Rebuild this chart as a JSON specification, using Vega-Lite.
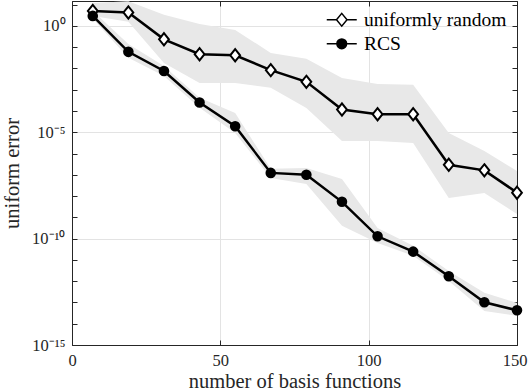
{
  "$schema": "https://vega.github.io/schema/vega-lite/v6.json",
  "autosize": "none",
  "width": 445,
  "height": 344,
  "padding": {"left": 72, "top": 1, "right": 11, "bottom": 47},
  "background": "white",
  "config": {
    "view": {"stroke": "#262626", "strokeWidth": 1},
    "font": "Liberation Serif",
    "axis": {
      "labelFont": "Liberation Serif",
      "titleFont": "Liberation Serif",
      "labelColor": "#262626",
      "titleColor": "#262626",
      "domainColor": "#262626",
      "tickColor": "#262626",
      "labelFontSize": 16.5,
      "titleFontSize": 20.5,
      "titleFontWeight": "normal",
      "gridColor": "#e3e3e3"
    }
  },
  "data": {
    "values": [
      {"n": 7, "series": "uniformly random", "err": 5.07, "lo": 2.95, "hi": 12.0},
      {"n": 19, "series": "uniformly random", "err": 4.27, "lo": 1.55, "hi": 14.5},
      {"n": 31, "series": "uniformly random", "err": 0.234, "lo": 0.0182, "hi": 3.31},
      {"n": 43, "series": "uniformly random", "err": 0.0468, "lo": 0.00209, "hi": 1.23},
      {"n": 55, "series": "uniformly random", "err": 0.0417, "lo": 0.00209, "hi": 0.646},
      {"n": 67, "series": "uniformly random", "err": 0.00832, "lo": 0.00123, "hi": 0.0537},
      {"n": 79, "series": "uniformly random", "err": 0.00234, "lo": 0.000138, "hi": 0.0282},
      {"n": 91, "series": "uniformly random", "err": 0.000117, "lo": 3.89e-6, "hi": 0.00355},
      {"n": 103, "series": "uniformly random", "err": 7.08e-5, "lo": 3.89e-6, "hi": 0.00186},
      {"n": 115, "series": "uniformly random", "err": 7.08e-5, "lo": 3.16e-6, "hi": 0.0017},
      {"n": 127, "series": "uniformly random", "err": 2.95e-7, "lo": 8.13e-9, "hi": 9.33e-6},
      {"n": 139, "series": "uniformly random", "err": 1.62e-7, "lo": 1.41e-8, "hi": 1.32e-6},
      {"n": 150, "series": "uniformly random", "err": 1.45e-8, "lo": 1.45e-9, "hi": 1.51e-7},
      {"n": 7, "series": "RCS", "err": 2.95, "lo": 2.14, "hi": 5.13},
      {"n": 19, "series": "RCS", "err": 0.0603, "lo": 0.0316, "hi": 0.141},
      {"n": 31, "series": "RCS", "err": 0.00759, "lo": 0.00447, "hi": 0.0132},
      {"n": 43, "series": "RCS", "err": 0.000251, "lo": 0.000141, "hi": 0.000417},
      {"n": 55, "series": "RCS", "err": 1.91e-5, "lo": 9.33e-6, "hi": 8.13e-5},
      {"n": 67, "series": "RCS", "err": 1.23e-7, "lo": 7.08e-8, "hi": 1.91e-7},
      {"n": 79, "series": "RCS", "err": 1.0e-7, "lo": 3.72e-8, "hi": 2.09e-7},
      {"n": 91, "series": "RCS", "err": 5.37e-9, "lo": 3.98e-10, "hi": 6.31e-8},
      {"n": 103, "series": "RCS", "err": 1.29e-10, "lo": 6.31e-11, "hi": 3.16e-10},
      {"n": 115, "series": "RCS", "err": 2.45e-11, "lo": 1.55e-11, "hi": 4.57e-11},
      {"n": 127, "series": "RCS", "err": 1.7e-12, "lo": 1.02e-12, "hi": 3.02e-12},
      {"n": 139, "series": "RCS", "err": 1.02e-13, "lo": 3.98e-14, "hi": 2.82e-13},
      {"n": 150, "series": "RCS", "err": 4.27e-14, "lo": 2.34e-14, "hi": 9.55e-14}
    ]
  },
  "resolve": {"axis": {"x": "independent", "y": "independent"}},
  "layer": [
    {
      "mark": {"type": "area", "color": "#e8e8e8", "opacity": 1},
      "encoding": {
        "x": {
          "field": "n", "type": "quantitative",
          "scale": {"domain": [0, 150], "nice": false, "zero": false},
          "axis": {
            "orient": "bottom", "values": [0, 50, 100, 150], "title": "number of basis functions",
            "tickSize": -5, "labelPadding": 12, "titlePadding": 3, "grid": true, "labelFlush": false,
            "labelOffset": {"condition": {"test": "datum.value == 150", "value": -2.5}, "value": 0}
          }
        },
        "y": {
          "field": "lo", "type": "quantitative",
          "scale": {"type": "log", "domain": [1e-15, 14.8], "nice": false},
          "axis": {
            "orient": "left",
            "values": [1e-15, 1e-14, 1e-13, 1e-12, 1e-11, 1e-10, 1e-9, 1e-8, 1e-7, 1e-6, 1e-5, 1e-4, 1e-3, 1e-2, 1e-1, 1, 10],
            "labelExpr": "datum.value == 1 ? '10⁰' : datum.value == 1e-5 ? '10⁻⁵' : datum.value == 1e-10 ? '10⁻¹⁰' : datum.value == 1e-15 ? '10⁻¹⁵' : ''",
            "title": "uniform error", "tickSize": -5, "labelPadding": 12, "titlePadding": 9,
            "grid": true,
            "gridOpacity": {"condition": {"test": "datum.value == 1 || datum.value == 1e-5 || datum.value == 1e-10", "value": 1}, "value": 0},
            "labelFlush": false
          }
        },
        "y2": {"field": "hi"},
        "detail": {"field": "series"}
      }
    },
    {
      "mark": {"type": "line", "color": "black", "strokeWidth": 2.5},
      "encoding": {
        "x": {
          "field": "n", "type": "quantitative",
          "axis": {"orient": "top", "values": [0, 50, 100, 150], "labels": false, "title": null, "tickSize": -5, "grid": false}
        },
        "y": {
          "field": "err", "type": "quantitative",
          "axis": {
            "orient": "right",
            "values": [1e-15, 1e-14, 1e-13, 1e-12, 1e-11, 1e-10, 1e-9, 1e-8, 1e-7, 1e-6, 1e-5, 1e-4, 1e-3, 1e-2, 1e-1, 1, 10],
            "labels": false, "title": null, "tickSize": -5, "grid": false
          }
        },
        "detail": {"field": "series"}
      }
    },
    {
      "transform": [{"filter": "datum.series === 'uniformly random'"}],
      "mark": {"type": "point", "shape": "M0,-1 L0.8,0 L0,1 L-0.8,0 Z", "filled": true, "fill": "white", "stroke": "black", "strokeWidth": 2, "opacity": 1, "size": 150},
      "encoding": {
        "x": {"field": "n", "type": "quantitative", "axis": null},
        "y": {"field": "err", "type": "quantitative", "axis": null}
      }
    },
    {
      "transform": [{"filter": "datum.series === 'RCS'"}],
      "mark": {"type": "point", "shape": "M-0.7,0 A0.7,0.7 0 1,0 0.7,0 A0.7,0.7 0 1,0 -0.7,0 Z", "filled": true, "fill": "black", "stroke": "black", "strokeWidth": 2, "opacity": 1, "size": 150},
      "encoding": {
        "x": {"field": "n", "type": "quantitative", "axis": null},
        "y": {"field": "err", "type": "quantitative", "axis": null}
      }
    },
    {
      "mark": {"type": "point", "stroke": "black", "strokeWidth": 2.5, "opacity": 0, "size": 225},
      "encoding": {
        "x": {"field": "n", "type": "quantitative", "axis": null},
        "y": {"field": "err", "type": "quantitative", "axis": null},
        "shape": {
          "field": "series", "type": "nominal",
          "scale": {"domain": ["uniformly random", "RCS"], "range": ["M-2,0 L-0.7,0 M0.7,0 L2,0 M0,-0.85 L0.7,0 L0,0.85 L-0.7,0 Z", "M-2,0 L2,0 M-0.65,0 A0.65,0.65 0 1,0 0.65,0 A0.65,0.65 0 1,0 -0.65,0 Z M-0.45,0 A0.45,0.45 0 1,0 0.45,0 A0.45,0.45 0 1,0 -0.45,0 Z M-0.25,0 A0.25,0.25 0 1,0 0.25,0 A0.25,0.25 0 1,0 -0.25,0 Z M-0.08,0 A0.08,0.08 0 1,0 0.08,0 A0.08,0.08 0 1,0 -0.08,0 Z"]},
          "legend": {
            "title": null, "orient": "none", "legendX": 260, "legendY": 9, "padding": 0,
            "labelFont": "Liberation Serif", "labelFontSize": 19.5, "labelColor": "black",
            "labelOffset": 12.5, "rowPadding": 3, "symbolSize": 225,
            "encode": {"symbols": {
              "opacity": {"value": 1},
              "stroke": {"value": "black"},
              "strokeWidth": {"value": 2.5}
            }}
          }
        },
        "fill": {
          "field": "series", "type": "nominal",
          "scale": {"domain": ["uniformly random", "RCS"], "range": ["white", "black"]},
          "legend": {
            "title": null, "orient": "none", "legendX": 260, "legendY": 9, "padding": 0,
            "labelFont": "Liberation Serif", "labelFontSize": 19.5, "labelColor": "black",
            "labelOffset": 12.5, "rowPadding": 3, "symbolSize": 225,
            "encode": {"symbols": {
              "opacity": {"value": 1},
              "stroke": {"value": "black"},
              "strokeWidth": {"value": 2.5}
            }}
          }
        }
      }
    }
  ]
}
